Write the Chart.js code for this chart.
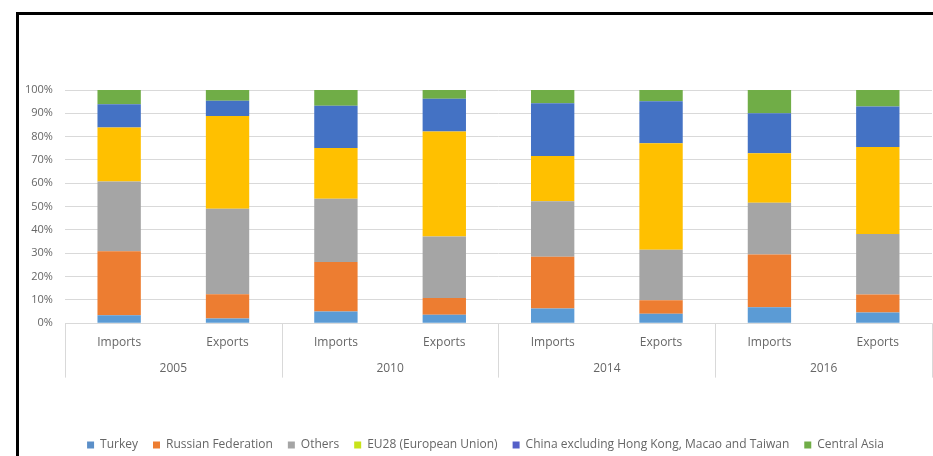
<!DOCTYPE html>
<html>
<head>
<meta charset="utf-8">
<script src="https://cdn.jsdelivr.net/npm/chart.js@4/dist/chart.umd.min.js"></script>
<style>
  html, body { margin: 0; padding: 0; background: #fff; }
  #wrap { position: relative; width: 933px; height: 456px; overflow: hidden; }
  #c { position: absolute; left: 0; top: 0; }
  #frame { position: absolute; left: 16px; top: 12px; width: 940px; height: 470px;
           border-left: 3px solid #000; border-top: 3px solid #000; pointer-events: none; }
</style>
</head>
<body>
<div id="wrap">
  <canvas id="c" width="933" height="461"></canvas>
  <div id="frame"></div>
</div>
<script>
// Categories: trade flow per year
const flows = ['Imports', 'Exports', 'Imports', 'Exports', 'Imports', 'Exports', 'Imports', 'Exports'];
const years = ['2005', '2010', '2014', '2016'];

// Share of each partner (%)
const turkey      = [3.4, 2.0, 5.0, 3.6, 6.3, 4.1, 6.8, 4.6];
const russia      = [27.4, 10.4, 21.2, 7.2, 22.2, 5.7, 22.7, 7.7];
const others      = [30.0, 36.7, 27.2, 26.4, 23.8, 21.7, 22.1, 25.9];
const eu28        = [23.1, 39.8, 21.7, 45.0, 19.4, 45.7, 21.3, 37.4];
const china       = [10.0, 6.5, 18.1, 14.0, 22.6, 18.0, 17.1, 17.3];
const centralAsia = [6.1, 4.6, 6.8, 3.8, 5.7, 4.8, 10.0, 7.1];

const yTicks = [0, 10, 20, 30, 40, 50, 60, 70, 80, 90, 100];

const textColor = '#666666';
const font = { family: "'Open Sans', sans-serif", size: 12 };
const yFont = { family: "'Open Sans', sans-serif", size: 11 };

const series = [
  { label: 'Turkey', data: turkey, color: '#5B9BD5', legend: '#5B8FC8' },
  { label: 'Russian Federation', data: russia, color: '#ED7D31', legend: '#ED7D31' },
  { label: 'Others', data: others, color: '#A5A5A5', legend: '#A5A5A5' },
  { label: 'EU28 (European Union)', data: eu28, color: '#FFC000', legend: '#C8E31A' },
  { label: 'China excluding Hong Kong, Macao and Taiwan', data: china, color: '#4472C4', legend: '#5560C8' },
  { label: 'Central Asia', data: centralAsia, color: '#70AD47', legend: '#70AD47' }
];

// Vertical separators between year groups, spanning both label rows
const groupSeparators = {
  id: 'groupSeparators',
  afterDraw(chart) {
    const x = chart.scales.x, x2 = chart.scales.x2;
    const ctx = chart.ctx;
    const step = x.width / flows.length;
    ctx.save();
    ctx.strokeStyle = '#d9d9d9';
    ctx.lineWidth = 1;
    for (let i = 0; i <= flows.length; i += 2) {
      const px = Math.round(x.left + step * i) + 0.5;
      ctx.beginPath();
      ctx.moveTo(px, x.top);
      ctx.lineTo(px, x2.top + 24);
      ctx.stroke();
    }
    ctx.restore();
  }
};

// Nudge the legend row slightly to the right of the canvas centre
const legendOffset = {
  id: 'legendOffset',
  afterLayout(chart) {
    const lg = chart.legend;
    if (lg) { lg.left += 13; lg.right += 13; }
  }
};

new Chart(document.getElementById('c'), {
  type: 'bar',
  data: {
    labels: flows,
    datasets: series.map(s => ({
      label: s.label,
      data: s.data,
      backgroundColor: s.color,
      legendColor: s.legend,
      borderWidth: 0,
      categoryPercentage: 0.8,
      barPercentage: 0.5,
      xAxisID: 'x'
    }))
  },
  options: {
    responsive: false,
    animation: false,
    layout: { padding: { left: 13, right: 1, top: 90, bottom: 0 } },
    plugins: {
      tooltip: { enabled: false },
      legend: {
        position: 'bottom',
        labels: {
          color: textColor,
          font: font,
          boxWidth: 7,
          boxHeight: 7,
          padding: 15,
          generateLabels(chart) {
            return chart.data.datasets.map((d, i) => ({
              text: d.label,
              fillStyle: d.legendColor,
              strokeStyle: d.legendColor,
              lineWidth: 0,
              fontColor: textColor,
              datasetIndex: i,
              hidden: false
            }));
          }
        }
      }
    },
    scales: {
      x: {
        stacked: true,
        grid: { display: false },
        border: { display: false },
        ticks: { color: textColor, font: font, padding: 4 }
      },
      x2: {
        type: 'category',
        labels: years,
        position: 'bottom',
        grid: { display: false },
        border: { display: false },
        ticks: { color: textColor, font: font, padding: 0 },
        afterFit(scale) { scale.height += 48; }
      },
      y: {
        stacked: true,
        min: 0,
        max: 100,
        afterBuildTicks(scale) { scale.ticks = yTicks.map(v => ({ value: v })); },
        grid: { color: '#d9d9d9', drawTicks: false },
        border: { display: false },
        ticks: { color: textColor, font: yFont, padding: 12, callback: v => v + '%' }
      }
    }
  },
  plugins: [groupSeparators, legendOffset]
});
</script>
</body>
</html>
